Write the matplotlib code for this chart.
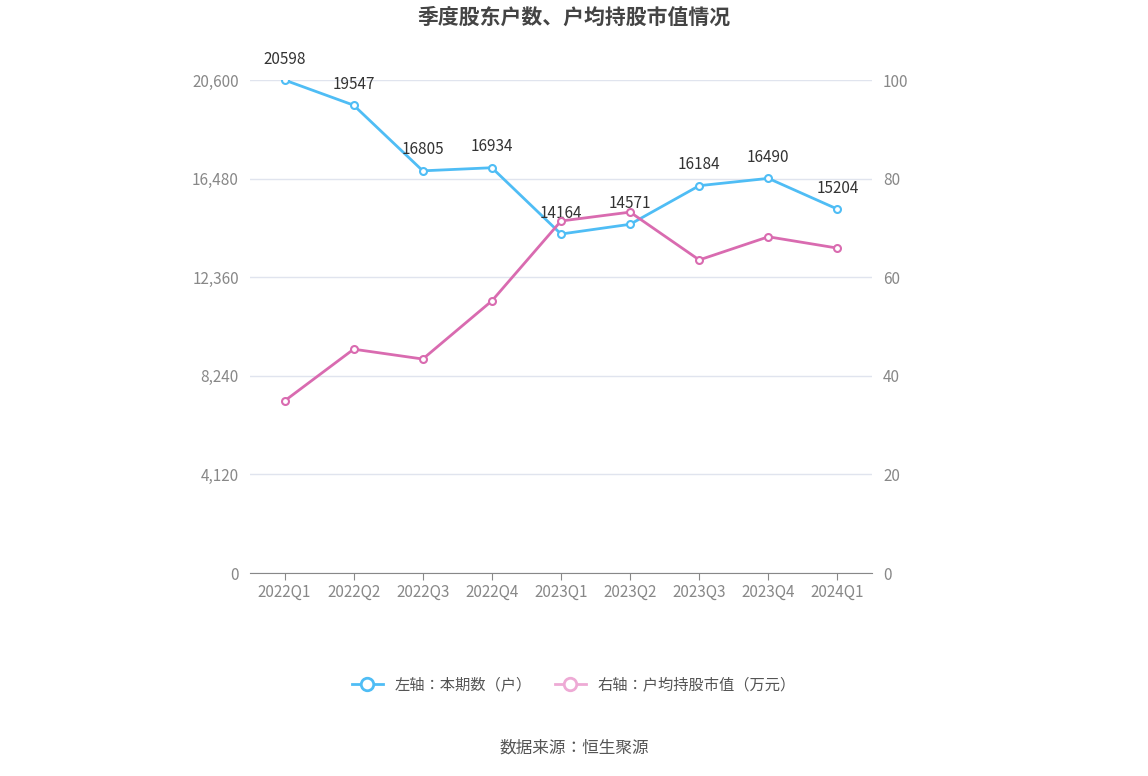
import matplotlib
matplotlib.use("Agg")
import matplotlib.pyplot as plt
from matplotlib import font_manager

names = {f.name for f in font_manager.fontManager.ttflist}
cjk = [n for n in ["Noto Sans CJK SC", "Noto Sans CJK JP", "Noto Sans CJK TC", "Noto Sans CJK KR"] if n in names]
plt.rcParams["font.family"] = cjk + ["DejaVu Sans"]

quarters = ["2022Q1","2022Q2","2022Q3","2022Q4","2023Q1","2023Q2","2023Q3","2023Q4","2024Q1"]
holders = [20598,19547,16805,16934,14164,14571,16184,16490,15204]
avg_value = [34.9,45.4,43.4,55.2,71.4,73.2,63.5,68.2,65.9]
left_ticks = [0,4120,8240,12360,16480,20600]
right_ticks = [0,20,40,60,80,100]

fig = plt.figure(figsize=(11.48,7.76), dpi=100)
ax = fig.add_axes([250/1148, 1-573/776, 622/1148, 493/776])
ax2 = ax.twinx()
x = range(len(quarters))
blue = "#4fbdf5"; pink = "#d96bb0"
ax.plot(x, holders, color=blue, lw=2, marker="o", ms=5, mfc="white", mew=1.5, zorder=3)
ax2.plot(x, avg_value, color=pink, lw=2, marker="o", ms=5, mfc="white", mew=1.5, zorder=3)
for i, v in enumerate(holders):
    ax.annotate(str(v), (i, v), xytext=(0, 9), textcoords="offset points", ha="center", va="bottom", fontsize=11, color="#333333")
ax.set_ylim(0, 20600); ax2.set_ylim(0, 100)
ax.set_xlim(-0.5, len(quarters)-0.5)
ax.set_yticks(left_ticks); ax.set_yticklabels([f"{t:,}" for t in left_ticks])
ax2.set_yticks(right_ticks)
ax.set_xticks(list(x)); ax.set_xticklabels(quarters)
ax.grid(axis="y", color="#e0e4ee", lw=1)
ax.set_axisbelow(True)
for a in (ax, ax2):
    for s in ["top","left","right"]:
        a.spines[s].set_visible(False)
    a.spines["bottom"].set_color("#888888")
    a.tick_params(colors="#888888", labelsize=11, length=0, pad=8)
ax.tick_params(axis="x", length=5, color="#888888", pad=3)
ax2.spines["bottom"].set_visible(False)
fig.text(0.5, 1-17/776, "季度股东户数、户均持股市值情况", ha="center", va="center", fontsize=15, fontweight="bold", color="#444444")
from matplotlib.lines import Line2D
h = [Line2D([], [], color=blue, lw=2, marker="o", ms=9, mfc="white", mew=2),
     Line2D([], [], color="#eeaad5", lw=2, marker="o", ms=9, mfc="white", mew=2)]
fig.legend(h, ["左轴：本期数（户）", "右轴：户均持股市值（万元）"], loc="center", bbox_to_anchor=(0.5, 1-685/776), ncol=2, frameon=False, fontsize=11, labelcolor="#555555", handlelength=2, columnspacing=1.5)
fig.text(0.5, 1-748/776, "数据来源：恒生聚源", ha="center", va="center", fontsize=12, color="#555555")
fig.savefig("out.png", dpi=100)
